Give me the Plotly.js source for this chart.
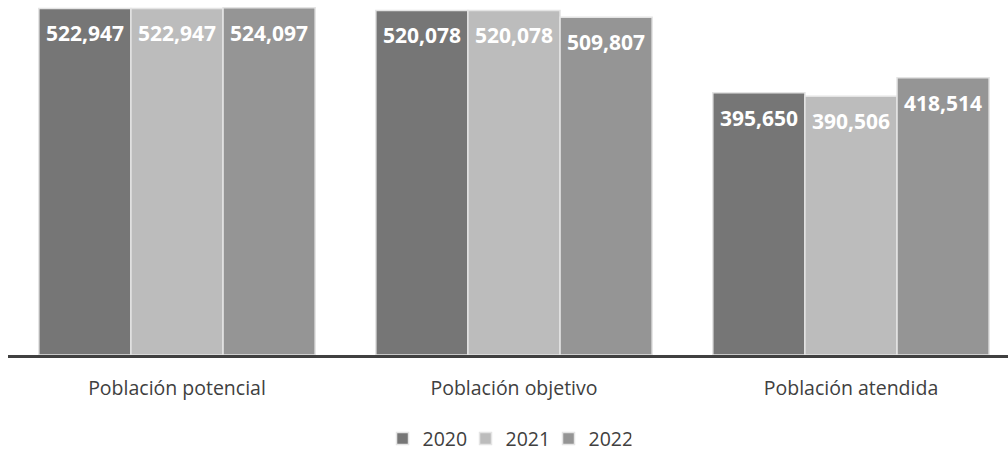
<!DOCTYPE html>
<html>
<head>
<meta charset="utf-8">
<script src="https://cdn.plot.ly/plotly-3.0.1.min.js"></script>
<style>html,body{margin:0;padding:0;background:#fff;}#chart{width:1008px;height:451px;}</style>
</head>
<body>
<div id="chart"></div>
<script>
const categories = ["Población potencial", "Población objetivo", "Población atendida"];
const seriesNames = ["2020", "2021", "2022"];
const values2020 = [522947, 520078, 395650];
const values2021 = [522947, 520078, 390506];
const values2022 = [524097, 509807, 418514];
const colors = ["#767676", "#bcbcbc", "#959595"];

const allValues = [values2020, values2021, values2022];
const traces = allValues.map((vals, k) => ({
  type: "bar",
  name: seriesNames[k],
  x: categories,
  y: vals,
  marker: { color: colors[k], line: { color: "#e4e4e4", width: 1.5 } },
  hoverinfo: "none"
}));

const bargap = 0.18;
const barW = (1 - bargap) / 3;
const annotations = [];
allValues.forEach((vals, k) => {
  vals.forEach((v, i) => {
    annotations.push({
      x: i + (k - 1) * barW, y: v, xref: "x", yref: "y",
      text: v.toLocaleString("en-US"),
      showarrow: false, yanchor: "middle", yshift: -25,
      font: { family: "Open Sans, sans-serif", size: 21, color: "#ffffff", weight: "bold" }
    });
  });
});

const layout = {
  width: 1008, height: 451,
  margin: { l: 8, r: 0, t: 5, b: 96 },
  paper_bgcolor: "#ffffff", plot_bgcolor: "#ffffff",
  barmode: "group", bargap: bargap, bargroupgap: 0,
  font: { family: "Open Sans, sans-serif", color: "#404040" },
  xaxis: {
    type: "category", range: [-0.5015, 2.466],
    showline: true, linecolor: "#404040", linewidth: 3,
    ticks: "", tickfont: { size: 19.5, color: "#404040" }, ticklabelstandoff: 14,
    showgrid: false, zeroline: false, automargin: false
  },
  yaxis: { range: [0, 528200], visible: false, showgrid: false, zeroline: false },
  showlegend: true,
  legend: {
    orientation: "h", x: 0.503, xanchor: "center", xref: "container",
    y: 0.027, yanchor: "middle", yref: "container",
    font: { size: 19.5, color: "#404040" }, itemwidth: 30, traceorder: "normal",
    entrywidth: 38, entrywidthmode: "pixels"
  },
  annotations: annotations
};

Plotly.newPlot("chart", traces, layout, { displayModeBar: false, staticPlot: true });
</script>
</body>
</html>
